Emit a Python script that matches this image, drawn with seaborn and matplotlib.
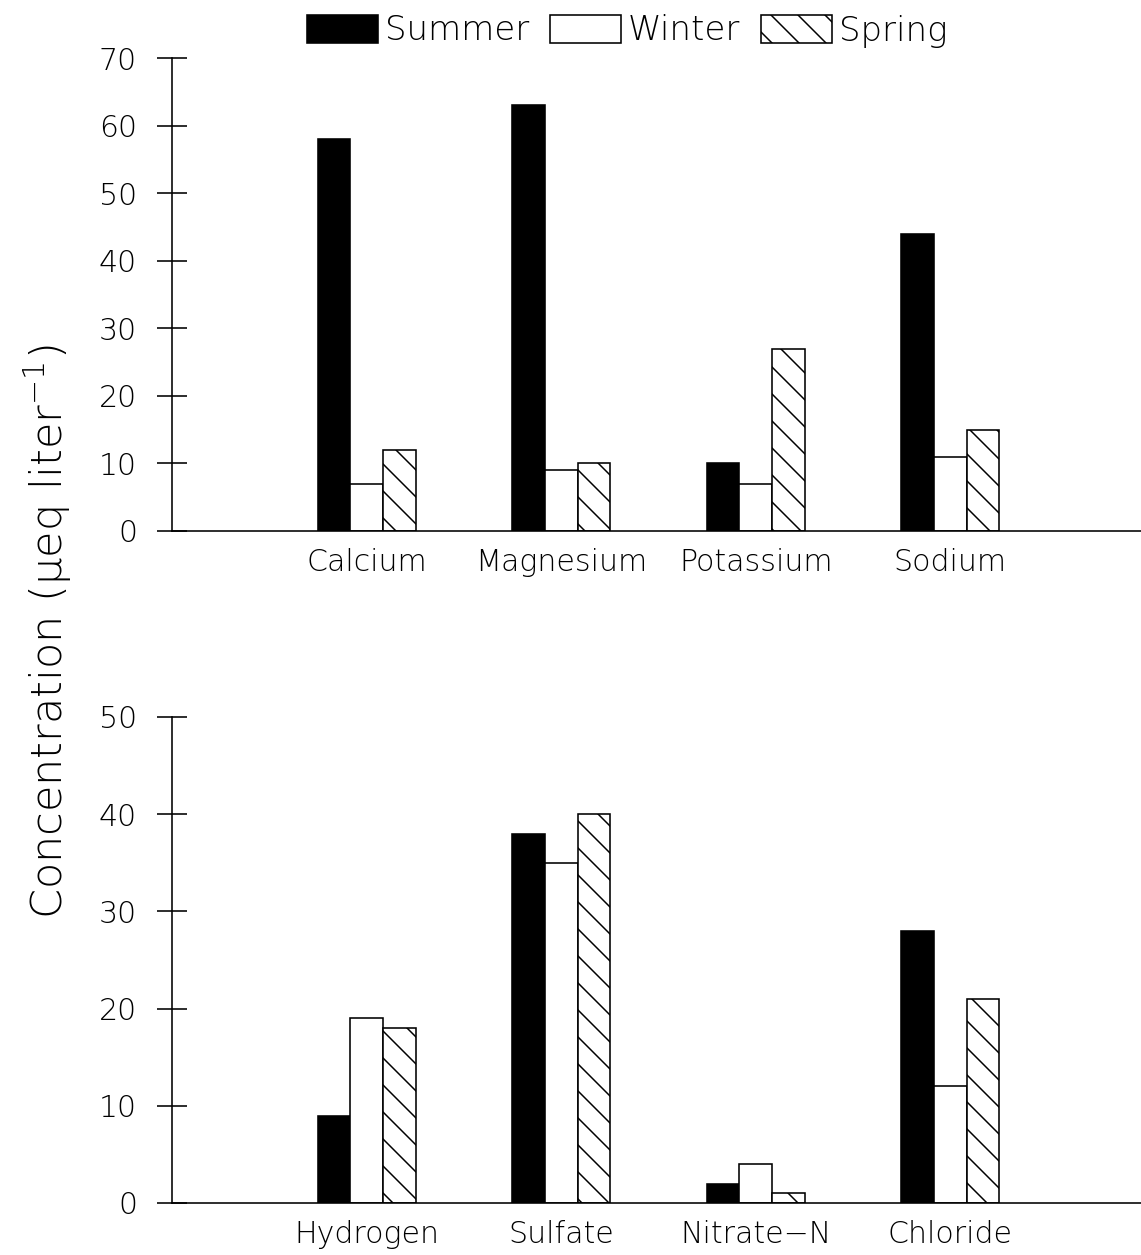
import numpy as np
import pandas as pd
import matplotlib
matplotlib.use("Agg")
import matplotlib.pyplot as plt
from matplotlib.patches import Patch
import seaborn as sns

# Mean ion concentrations (ueq/L) by season
seasons = ["Summer", "Winter", "Spring"]

cations = ["Calcium", "Magnesium", "Potassium", "Sodium"]
cation_summer = [58, 63, 10, 44]
cation_winter = [7, 9, 7, 11]
cation_spring = [12, 10, 27, 15]

anions = ["Hydrogen", "Sulfate", "Nitrate\u2212N", "Chloride"]
anion_summer = [9, 38, 2, 28]
anion_winter = [19, 35, 4, 12]
anion_spring = [18, 40, 1, 21]

top_ticks = [0, 10, 20, 30, 40, 50, 60, 70]
bottom_ticks = [0, 10, 20, 30, 40, 50]


def long_table(ions, summer, winter, spring):
    rows = []
    for season, vals in zip(seasons, [summer, winter, spring]):
        for ion, v in zip(ions, vals):
            rows.append({"ion": ion, "season": season, "value": v})
    return pd.DataFrame(rows)


# The hatch tile is one inch, so the dpi sets the spacing of the hatch lines.
DPI = 162
W, H = 1141, 1255


def pt(px):
    return px * 72.0 / DPI


sns.set_theme(style="white")
plt.rcParams["font.family"] = ["DejaVu Sans"]
plt.rcParams["font.weight"] = "light"
plt.rcParams["mathtext.fontset"] = "custom"
plt.rcParams["mathtext.rm"] = "DejaVu Sans:light"
plt.rcParams["mathtext.default"] = "regular"
plt.rcParams["text.color"] = "black"
plt.rcParams["axes.labelcolor"] = "black"
plt.rcParams["xtick.color"] = "black"
plt.rcParams["ytick.color"] = "black"
plt.rcParams["hatch.linewidth"] = pt(1.5)
plt.rcParams["hatch.color"] = "black"

FS = pt(30)
LW = pt(1.6)
fill_colors = {"Summer": "black", "Winter": "white", "Spring": "white"}
hatches = {"Summer": "", "Winter": "", "Spring": "\\\\"}

fig = plt.figure(figsize=(W / DPI, H / DPI), dpi=DPI)
ax_top = fig.add_axes([172 / W, 1 - 531 / H, 1 - 172 / W, (531 - 58) / H])
ax_bot = fig.add_axes([172 / W, 1 - 1203 / H, 1 - 172 / W, (1203 - 717) / H])

panels = [
    (ax_top, long_table(cations, cation_summer, cation_winter, cation_spring), cations, 70, top_ticks),
    (ax_bot, long_table(anions, anion_summer, anion_winter, anion_spring), anions, 50, bottom_ticks),
]

for ax, df, order, ymax, ticks in panels:
    sns.barplot(data=df, x="ion", y="value", hue="season", order=order,
                hue_order=seasons, palette=fill_colors, width=0.504,
                edgecolor="black", linewidth=LW, saturation=1,
                errorbar=None, legend=False, ax=ax)
    for season, cont in zip(seasons, ax.containers):
        for bar in cont:
            bar.set_hatch(hatches[season])
            bar.set_edgecolor("black")
    ax.set_xlim(-1.0, 3.98)
    ax.set_ylim(0, ymax)
    ax.set_yticks(ticks)
    ax.set_yticklabels([str(t) for t in ticks])
    ax.set_xlabel("")
    ax.set_ylabel("")
    for side in ["top", "right"]:
        ax.spines[side].set_visible(False)
    for side in ["left", "bottom"]:
        ax.spines[side].set_linewidth(LW)
        ax.spines[side].set_color("black")
    ax.tick_params(axis="y", direction="inout", length=pt(30), width=LW,
                   labelsize=FS, pad=pt(20), left=True)
    ax.tick_params(axis="x", length=0, labelsize=FS, pad=pt(17))
    ax.patch.set_alpha(0)

fig.text(48 / W, 1 - 632 / H, "Concentration (\u03bceq liter$^{-1}$)",
         rotation=90, ha="center", va="center", fontsize=pt(43))

handles = [Patch(facecolor=fill_colors[s], edgecolor="black", hatch=hatches[s],
                 linewidth=LW, label=s) for s in seasons]
fig.legend(handles=handles, loc="center", bbox_to_anchor=(627 / W, 1 - 31 / H), ncol=3,
           frameon=False, fontsize=pt(34), handlelength=2.1, handleheight=0.9,
           handletextpad=0.2, columnspacing=0.6, borderpad=0)

fig.savefig("out.png", dpi=DPI)
